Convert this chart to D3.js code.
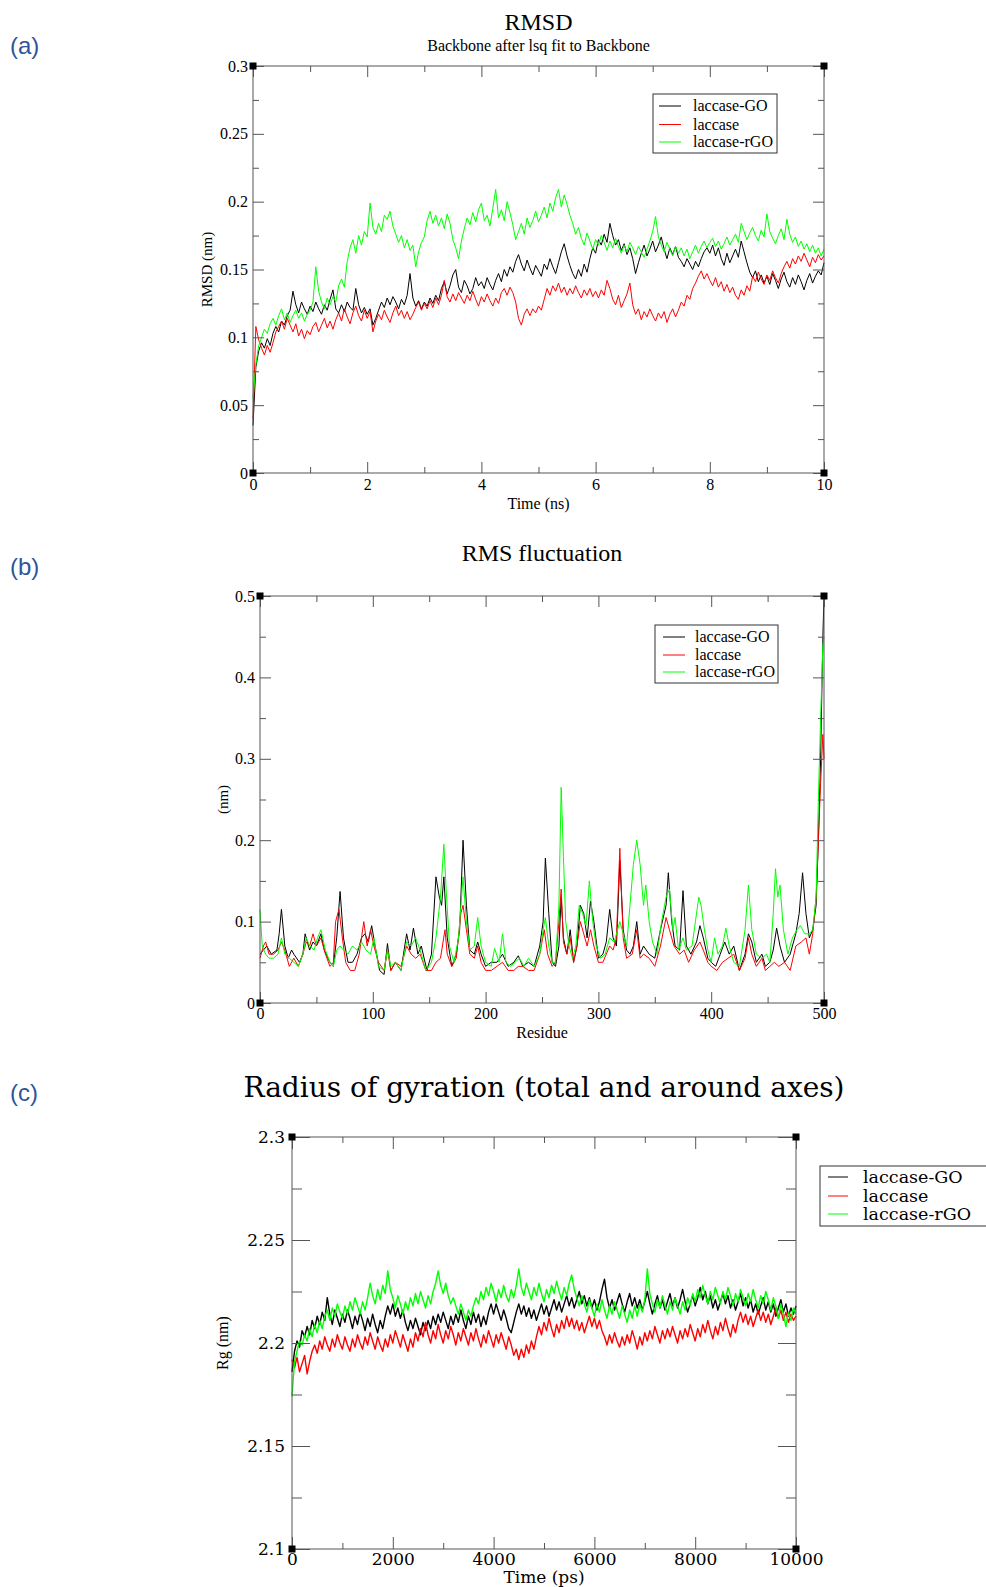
<!DOCTYPE html>
<html>
<head>
<meta charset="utf-8">
<script src="https://cdn.jsdelivr.net/npm/d3@7"></script>
<style>
body { margin: 0; background: #fff; }
svg { display: block; }
</style>
</head>
<body>
<svg width="986" height="1587"></svg>
<script>
// ---------- (a) RMSD, one sample every 0.05 ns ----------
var rmsdStep = 0.05;
var rmsdGO = [
  0.035,0.078,0.090,0.096,0.092,0.099,0.094,0.103,0.108,0.104,
  0.112,0.109,0.116,0.120,0.134,0.124,0.118,0.126,0.121,0.117,
  0.123,0.119,0.126,0.121,0.117,0.124,0.120,0.128,0.135,0.121,
  0.118,0.124,0.119,0.126,0.122,0.120,0.136,0.124,0.118,0.122,
  0.117,0.121,0.109,0.114,0.120,0.126,0.122,0.129,0.124,0.130,
  0.126,0.121,0.128,0.124,0.131,0.147,0.129,0.123,0.127,0.121,
  0.126,0.123,0.129,0.125,0.131,0.127,0.136,0.141,0.132,0.138,
  0.146,0.150,0.137,0.133,0.142,0.138,0.132,0.136,0.144,0.138,
  0.141,0.136,0.144,0.139,0.135,0.142,0.147,0.141,0.150,0.145,
  0.152,0.148,0.156,0.161,0.154,0.149,0.157,0.151,0.146,0.153,
  0.149,0.145,0.154,0.150,0.158,0.152,0.147,0.155,0.163,0.169,
  0.160,0.153,0.147,0.143,0.150,0.145,0.154,0.148,0.158,0.166,
  0.162,0.172,0.168,0.176,0.170,0.184,0.175,0.168,0.172,0.164,
  0.169,0.161,0.166,0.158,0.147,0.155,0.162,0.168,0.160,0.165,
  0.171,0.163,0.168,0.174,0.165,0.158,0.166,0.161,0.167,0.159,
  0.156,0.152,0.158,0.154,0.150,0.156,0.152,0.158,0.163,0.166,
  0.162,0.168,0.160,0.166,0.158,0.153,0.162,0.155,0.160,0.165,
  0.159,0.171,0.163,0.155,0.148,0.144,0.149,0.141,0.146,0.140,
  0.145,0.139,0.147,0.142,0.136,0.143,0.148,0.141,0.137,0.144,
  0.139,0.146,0.141,0.135,0.142,0.147,0.140,0.145,0.149,0.146,
  0.155];
var rmsdLac = [
  0.040,0.108,0.098,0.092,0.087,0.094,0.089,0.096,0.104,0.108,
  0.112,0.106,0.114,0.109,0.104,0.110,0.101,0.106,0.099,0.105,
  0.102,0.108,0.111,0.104,0.109,0.114,0.107,0.112,0.106,0.113,
  0.118,0.112,0.121,0.115,0.110,0.118,0.123,0.116,0.112,0.120,
  0.114,0.119,0.104,0.112,0.117,0.113,0.120,0.115,0.111,0.118,
  0.123,0.116,0.120,0.114,0.119,0.113,0.117,0.122,0.126,0.120,
  0.125,0.121,0.127,0.122,0.129,0.124,0.131,0.142,0.130,0.126,
  0.132,0.127,0.133,0.129,0.125,0.131,0.127,0.134,0.128,0.123,
  0.130,0.126,0.132,0.127,0.123,0.129,0.125,0.133,0.136,0.131,
  0.137,0.133,0.126,0.114,0.109,0.117,0.121,0.116,0.121,0.118,
  0.123,0.120,0.128,0.136,0.131,0.138,0.134,0.140,0.133,0.137,
  0.131,0.136,0.132,0.138,0.133,0.129,0.135,0.131,0.136,0.130,
  0.134,0.129,0.135,0.131,0.142,0.136,0.128,0.124,0.131,0.122,
  0.127,0.132,0.140,0.124,0.117,0.121,0.113,0.119,0.115,0.121,
  0.116,0.112,0.118,0.114,0.119,0.111,0.117,0.121,0.115,0.120,
  0.126,0.123,0.131,0.128,0.136,0.140,0.145,0.149,0.143,0.147,
  0.142,0.138,0.144,0.137,0.141,0.134,0.139,0.133,0.137,0.131,
  0.128,0.135,0.131,0.138,0.134,0.145,0.141,0.148,0.143,0.139,
  0.146,0.142,0.149,0.144,0.140,0.147,0.152,0.156,0.151,0.158,
  0.154,0.160,0.156,0.162,0.157,0.152,0.159,0.155,0.161,0.157,
  0.160];
var rmsdRGO = [
  0.055,0.080,0.094,0.100,0.106,0.103,0.110,0.114,0.109,0.116,
  0.121,0.113,0.118,0.111,0.116,0.120,0.114,0.118,0.112,0.117,
  0.120,0.126,0.152,0.134,0.126,0.121,0.129,0.124,0.130,0.126,
  0.138,0.143,0.137,0.156,0.166,0.172,0.162,0.175,0.168,0.178,
  0.174,0.199,0.181,0.176,0.184,0.178,0.190,0.187,0.193,0.182,
  0.176,0.170,0.175,0.166,0.172,0.164,0.168,0.152,0.163,0.170,
  0.174,0.186,0.193,0.184,0.190,0.182,0.188,0.180,0.191,0.184,
  0.172,0.166,0.158,0.171,0.180,0.188,0.183,0.192,0.185,0.194,
  0.199,0.186,0.190,0.182,0.195,0.209,0.188,0.194,0.186,0.200,
  0.192,0.183,0.172,0.178,0.184,0.176,0.188,0.181,0.186,0.193,
  0.185,0.190,0.196,0.188,0.199,0.193,0.203,0.209,0.196,0.205,
  0.198,0.190,0.184,0.176,0.181,0.173,0.168,0.177,0.171,0.165,
  0.172,0.168,0.175,0.170,0.164,0.171,0.166,0.173,0.167,0.162,
  0.168,0.163,0.170,0.166,0.161,0.167,0.163,0.159,0.165,0.171,
  0.178,0.189,0.174,0.168,0.163,0.170,0.165,0.160,0.167,0.162,
  0.166,0.160,0.165,0.158,0.163,0.168,0.162,0.167,0.171,0.166,
  0.170,0.173,0.167,0.171,0.165,0.169,0.174,0.168,0.172,0.176,
  0.170,0.184,0.178,0.172,0.177,0.181,0.175,0.171,0.179,0.174,
  0.191,0.178,0.173,0.169,0.175,0.180,0.172,0.187,0.176,0.170,
  0.174,0.167,0.171,0.165,0.169,0.163,0.168,0.162,0.166,0.160,
  0.165];

// ---------- (b) RMSF, [residue, nm] ----------
var rmsfGO = [[0,0.060],[3,0.065],[6,0.070],[10,0.060],[15,0.065],[17,0.085],[19,0.115],[22,0.070],[25,0.055],[28,0.065],[30,0.060],[35,0.050],[38,0.060],[40,0.085],[44,0.065],[47,0.075],[50,0.070],[54,0.085],[57,0.065],[62,0.050],[65,0.045],[68,0.080],[71,0.137],[74,0.080],[78,0.050],[82,0.050],[86,0.060],[90,0.080],[93,0.085],[96,0.075],[99,0.095],[102,0.070],[106,0.040],[110,0.035],[113,0.073],[116,0.040],[120,0.050],[125,0.040],[130,0.085],[133,0.065],[136,0.092],[140,0.060],[143,0.070],[148,0.040],[152,0.060],[156,0.155],[159,0.130],[161,0.120],[163,0.155],[166,0.080],[170,0.045],[174,0.060],[177,0.090],[180,0.200],[183,0.120],[186,0.065],[190,0.060],[193,0.075],[196,0.060],[200,0.045],[205,0.050],[210,0.050],[215,0.060],[220,0.045],[225,0.050],[229,0.058],[233,0.045],[238,0.050],[243,0.045],[248,0.070],[251,0.100],[253,0.178],[256,0.110],[259,0.050],[262,0.045],[265,0.070],[267,0.130],[269,0.080],[272,0.060],[275,0.090],[278,0.050],[281,0.070],[284,0.120],[287,0.110],[290,0.080],[293,0.125],[296,0.100],[300,0.055],[304,0.060],[307,0.075],[310,0.115],[313,0.080],[316,0.070],[319,0.175],[322,0.090],[325,0.065],[328,0.060],[331,0.070],[334,0.100],[337,0.060],[340,0.070],[345,0.060],[350,0.055],[355,0.090],[360,0.120],[362,0.160],[365,0.100],[368,0.070],[372,0.065],[375,0.138],[378,0.070],[382,0.060],[387,0.075],[390,0.095],[393,0.080],[397,0.055],[400,0.050],[404,0.045],[408,0.060],[412,0.075],[416,0.060],[420,0.070],[425,0.040],[430,0.060],[433,0.085],[436,0.075],[440,0.050],[445,0.060],[448,0.045],[452,0.050],[455,0.065],[458,0.092],[461,0.070],[465,0.050],[470,0.060],[475,0.085],[478,0.110],[481,0.160],[484,0.110],[487,0.080],[490,0.090],[493,0.120],[495,0.200],[497,0.300],[499,0.450],[500,0.500]];
var rmsfLac = [[0,0.055],[3,0.070],[5,0.075],[8,0.060],[12,0.060],[16,0.065],[19,0.075],[22,0.065],[26,0.045],[30,0.055],[34,0.045],[38,0.060],[41,0.075],[44,0.070],[47,0.085],[50,0.070],[54,0.080],[58,0.060],[62,0.045],[65,0.050],[67,0.100],[70,0.115],[73,0.080],[76,0.050],[80,0.040],[84,0.040],[88,0.060],[92,0.100],[95,0.070],[98,0.090],[101,0.070],[105,0.050],[110,0.040],[113,0.065],[116,0.040],[120,0.050],[125,0.045],[130,0.070],[134,0.060],[138,0.055],[142,0.060],[147,0.040],[152,0.040],[156,0.050],[160,0.055],[164,0.090],[166,0.060],[170,0.045],[174,0.055],[178,0.110],[180,0.120],[183,0.090],[186,0.060],[190,0.055],[193,0.070],[196,0.050],[200,0.040],[205,0.040],[210,0.045],[215,0.050],[220,0.040],[225,0.040],[229,0.045],[233,0.045],[238,0.040],[243,0.040],[248,0.060],[252,0.090],[255,0.060],[259,0.045],[262,0.050],[265,0.100],[267,0.140],[269,0.075],[272,0.060],[275,0.080],[278,0.050],[281,0.070],[284,0.100],[287,0.085],[290,0.070],[293,0.090],[296,0.070],[300,0.050],[304,0.050],[307,0.060],[310,0.070],[313,0.065],[316,0.080],[319,0.190],[322,0.080],[325,0.055],[330,0.060],[334,0.090],[337,0.055],[340,0.060],[345,0.055],[350,0.045],[355,0.070],[360,0.105],[363,0.090],[367,0.070],[372,0.060],[376,0.065],[380,0.050],[385,0.065],[390,0.075],[393,0.065],[397,0.050],[400,0.045],[405,0.040],[410,0.050],[415,0.055],[420,0.060],[425,0.040],[430,0.055],[433,0.080],[436,0.060],[440,0.045],[445,0.055],[448,0.040],[452,0.045],[456,0.050],[460,0.045],[465,0.050],[470,0.040],[475,0.070],[480,0.075],[484,0.080],[487,0.060],[490,0.085],[493,0.130],[495,0.200],[497,0.270],[499,0.330],[500,0.300]];
var rmsfRGO = [[0,0.115],[2,0.070],[5,0.060],[8,0.055],[12,0.055],[16,0.060],[19,0.080],[22,0.060],[26,0.055],[30,0.050],[34,0.045],[38,0.060],[41,0.080],[44,0.070],[48,0.065],[51,0.080],[54,0.090],[58,0.065],[62,0.050],[65,0.045],[68,0.065],[71,0.070],[74,0.065],[78,0.060],[82,0.070],[86,0.065],[90,0.075],[94,0.065],[98,0.060],[101,0.080],[105,0.045],[110,0.040],[113,0.065],[116,0.045],[120,0.050],[125,0.040],[130,0.075],[134,0.070],[138,0.080],[142,0.065],[147,0.040],[152,0.050],[156,0.080],[160,0.130],[163,0.195],[165,0.140],[168,0.070],[172,0.050],[176,0.080],[180,0.155],[183,0.100],[186,0.065],[190,0.070],[193,0.105],[196,0.070],[200,0.050],[205,0.045],[208,0.067],[212,0.050],[215,0.085],[218,0.050],[222,0.045],[226,0.050],[230,0.055],[234,0.045],[238,0.055],[243,0.045],[248,0.060],[251,0.090],[253,0.105],[256,0.070],[259,0.050],[262,0.050],[265,0.120],[267,0.265],[269,0.180],[271,0.100],[274,0.070],[277,0.055],[280,0.070],[283,0.120],[286,0.110],[289,0.095],[292,0.150],[295,0.100],[298,0.070],[302,0.055],[306,0.060],[310,0.080],[314,0.075],[317,0.090],[319,0.100],[322,0.085],[325,0.070],[328,0.120],[331,0.170],[334,0.200],[337,0.170],[340,0.120],[342,0.145],[345,0.100],[348,0.075],[352,0.060],[356,0.100],[360,0.130],[363,0.140],[366,0.090],[368,0.105],[371,0.065],[375,0.080],[378,0.065],[383,0.070],[386,0.100],[389,0.130],[391,0.120],[394,0.090],[397,0.065],[400,0.050],[403,0.080],[406,0.060],[410,0.070],[413,0.092],[416,0.070],[420,0.050],[425,0.045],[430,0.090],[433,0.145],[436,0.090],[440,0.060],[445,0.055],[449,0.060],[452,0.050],[455,0.110],[457,0.165],[459,0.130],[461,0.145],[464,0.090],[468,0.060],[472,0.080],[476,0.090],[479,0.095],[483,0.085],[487,0.085],[490,0.090],[493,0.130],[495,0.250],[497,0.350],[499,0.440],[500,0.450]];

// ---------- (c) Rg, one sample every 50 ps ----------
var rgStep = 50;
var rgGO = [
  2.186,2.196,2.201,2.198,2.206,2.203,2.208,2.204,2.211,2.207,
  2.213,2.209,2.215,2.211,2.222,2.214,2.209,2.216,2.212,2.208,
  2.214,2.210,2.216,2.212,2.207,2.213,2.209,2.215,2.211,2.206,
  2.212,2.208,2.214,2.209,2.205,2.211,2.207,2.213,2.218,2.214,
  2.219,2.213,2.217,2.212,2.216,2.210,2.206,2.211,2.207,2.212,
  2.208,2.204,2.210,2.206,2.211,2.207,2.213,2.209,2.214,2.210,
  2.215,2.211,2.207,2.213,2.209,2.214,2.210,2.216,2.211,2.207,
  2.213,2.209,2.215,2.210,2.214,2.208,2.213,2.209,2.215,2.219,
  2.214,2.219,2.215,2.211,2.216,2.212,2.207,2.205,2.210,2.215,
  2.219,2.214,2.218,2.213,2.217,2.212,2.216,2.211,2.215,2.219,
  2.214,2.218,2.213,2.217,2.221,2.216,2.220,2.215,2.219,2.223,
  2.218,2.222,2.217,2.221,2.225,2.219,2.223,2.218,2.222,2.217,
  2.221,2.216,2.220,2.226,2.231,2.222,2.217,2.221,2.216,2.220,
  2.224,2.219,2.215,2.220,2.224,2.218,2.222,2.217,2.221,2.216,
  2.220,2.225,2.219,2.214,2.219,2.223,2.217,2.221,2.216,2.220,
  2.224,2.218,2.222,2.217,2.221,2.226,2.220,2.215,2.219,2.223,
  2.218,2.222,2.227,2.221,2.225,2.219,2.223,2.217,2.221,2.216,
  2.220,2.224,2.219,2.223,2.217,2.221,2.216,2.220,2.224,2.218,
  2.222,2.217,2.221,2.215,2.219,2.214,2.218,2.222,2.216,2.220,
  2.215,2.219,2.213,2.217,2.221,2.215,2.219,2.213,2.217,2.214,
  2.218];
var rgLac = [
  2.192,2.188,2.193,2.186,2.190,2.194,2.185,2.191,2.196,2.199,
  2.195,2.201,2.197,2.203,2.199,2.196,2.202,2.198,2.204,2.200,
  2.197,2.203,2.199,2.196,2.202,2.198,2.204,2.200,2.197,2.203,
  2.199,2.205,2.201,2.197,2.203,2.199,2.196,2.202,2.198,2.204,
  2.200,2.206,2.202,2.198,2.204,2.200,2.196,2.202,2.198,2.205,
  2.201,2.207,2.203,2.210,2.204,2.200,2.206,2.202,2.209,2.204,
  2.200,2.206,2.202,2.208,2.204,2.199,2.205,2.201,2.207,2.203,
  2.199,2.205,2.201,2.207,2.202,2.198,2.204,2.200,2.206,2.202,
  2.198,2.204,2.200,2.205,2.201,2.197,2.203,2.199,2.194,2.197,
  2.192,2.197,2.193,2.199,2.195,2.201,2.197,2.203,2.208,2.204,
  2.210,2.206,2.212,2.207,2.203,2.209,2.205,2.211,2.207,2.213,
  2.208,2.212,2.207,2.211,2.206,2.210,2.205,2.209,2.213,2.208,
  2.212,2.207,2.211,2.206,2.203,2.199,2.204,2.200,2.205,2.201,
  2.198,2.203,2.199,2.204,2.200,2.206,2.202,2.197,2.203,2.199,
  2.205,2.201,2.206,2.202,2.208,2.204,2.200,2.206,2.202,2.207,
  2.203,2.208,2.204,2.200,2.206,2.202,2.207,2.203,2.209,2.205,
  2.201,2.207,2.203,2.209,2.205,2.211,2.206,2.202,2.208,2.204,
  2.210,2.206,2.212,2.207,2.203,2.209,2.205,2.211,2.215,2.210,
  2.214,2.209,2.213,2.208,2.212,2.216,2.211,2.215,2.210,2.214,
  2.209,2.213,2.217,2.212,2.216,2.211,2.215,2.210,2.214,2.211,
  2.213];
var rgRGO = [
  2.174,2.191,2.196,2.201,2.199,2.204,2.201,2.207,2.203,2.209,
  2.205,2.211,2.207,2.213,2.216,2.211,2.217,2.213,2.219,2.215,
  2.212,2.218,2.214,2.220,2.216,2.222,2.218,2.214,2.220,2.216,
  2.222,2.229,2.223,2.219,2.226,2.221,2.228,2.224,2.235,2.226,
  2.222,2.217,2.223,2.219,2.214,2.220,2.216,2.222,2.218,2.224,
  2.219,2.225,2.221,2.217,2.223,2.219,2.225,2.229,2.235,2.228,
  2.224,2.229,2.223,2.219,2.222,2.218,2.214,2.219,2.215,2.211,
  2.216,2.213,2.218,2.222,2.219,2.225,2.221,2.227,2.223,2.229,
  2.225,2.220,2.226,2.222,2.228,2.223,2.220,2.226,2.222,2.228,
  2.236,2.227,2.223,2.229,2.225,2.221,2.227,2.223,2.229,2.224,
  2.220,2.226,2.222,2.228,2.224,2.230,2.225,2.221,2.227,2.223,
  2.229,2.233,2.226,2.222,2.218,2.223,2.219,2.215,2.221,2.217,
  2.213,2.219,2.215,2.221,2.216,2.212,2.218,2.214,2.220,2.216,
  2.212,2.218,2.214,2.210,2.216,2.212,2.218,2.213,2.219,2.215,
  2.221,2.236,2.224,2.219,2.215,2.221,2.217,2.223,2.218,2.214,
  2.220,2.216,2.222,2.218,2.214,2.220,2.216,2.222,2.218,2.224,
  2.220,2.226,2.222,2.228,2.223,2.219,2.225,2.221,2.227,2.223,
  2.219,2.225,2.221,2.227,2.223,2.218,2.224,2.220,2.226,2.222,
  2.218,2.224,2.220,2.226,2.221,2.217,2.223,2.219,2.225,2.221,
  2.216,2.222,2.218,2.212,2.219,2.214,2.208,2.215,2.211,2.217,
  2.214];

var seriesNames = ["laccase-GO", "laccase", "laccase-rGO"];
var seriesColors = ["#000000", "#ff0000", "#00ff00"];

var serif = "'Liberation Serif','Times New Roman',serif";
var wideSerif = "'DejaVu Serif',serif";
var svg = d3.select("svg");

function stepped(vals, step) {
  return vals.map(function(v, i) { return [i * step, v]; });
}
function trimNum(d) { return String(+d.toFixed(3)); }

function panel(c) {
  var x = d3.scaleLinear().domain(c.xDomain).range([c.l, c.r]);
  var y = d3.scaleLinear().domain(c.yDomain).range([c.b, c.t]);
  var g = svg.append("g");

  // series
  var line = d3.line().x(function(d){ return x(d[0]); }).y(function(d){ return y(d[1]); });
  c.series.forEach(function(s, i) {
    g.append("path")
      .datum(s)
      .attr("fill", "none")
      .attr("stroke", seriesColors[i])
      .attr("stroke-width", c.lw)
      .attr("stroke-linejoin", "round")
      .attr("d", line);
  });

  // inward ticks on all four sides, major + minor
  function ax(gen, scale, vals, size, tx, ty, labels, pad) {
    var a = gen(scale).tickValues(vals).tickSizeInner(-size).tickSizeOuter(0).tickPadding(pad || 3);
    a.tickFormat(labels ? c[labels] : "");
    var gg = g.append("g").attr("transform", "translate(" + tx + "," + ty + ")").call(a);
    gg.select(".domain").remove();
    gg.selectAll(".tick line").attr("stroke", "#555");
    gg.attr("font-family", c.tickFont).attr("font-size", c.tickSize);
    gg.selectAll("text").attr("fill", "#000");
    return gg;
  }
  ax(d3.axisBottom, x, c.xMinor, c.minX, 0, c.b);
  ax(d3.axisTop, x, c.xMinor, c.minX, 0, c.t);
  ax(d3.axisLeft, y, c.yMinor, c.minY, c.l, 0);
  ax(d3.axisRight, y, c.yMinor, c.minY, c.r, 0);
  ax(d3.axisBottom, x, c.xMajor, c.majX, 0, c.b, "xFmt", c.xPad);
  ax(d3.axisTop, x, c.xMajor, c.majX, 0, c.t);
  ax(d3.axisLeft, y, c.yMajor, c.majY, c.l, 0, "yFmt", c.yPad);
  ax(d3.axisRight, y, c.yMajor, c.majY, c.r, 0);

  g.append("rect")
    .attr("x", c.l).attr("y", c.t)
    .attr("width", c.r - c.l).attr("height", c.b - c.t)
    .attr("fill", "none").attr("stroke", "#555").attr("stroke-width", 1);

  // corner markers
  [[c.l, c.t], [c.r, c.t], [c.l, c.b], [c.r, c.b]].forEach(function(p) {
    g.append("rect").attr("x", p[0] - 3.5).attr("y", p[1] - 3.5)
      .attr("width", 7).attr("height", 7).attr("fill", "#000");
  });

  // titles and axis labels
  c.titles.forEach(function(t) {
    g.append("text").attr("x", (c.l + c.r) / 2).attr("y", t.y)
      .attr("text-anchor", "middle").attr("font-family", t.font)
      .attr("font-size", t.size).text(t.text);
  });
  g.append("text").attr("x", (c.l + c.r) / 2).attr("y", c.xLabelY)
    .attr("text-anchor", "middle").attr("font-family", c.labelFont)
    .attr("font-size", c.labelSize).text(c.xLabel);
  g.append("text")
    .attr("transform", "translate(" + c.yLabelX + "," + (c.t + c.b) / 2 + ") rotate(-90)")
    .attr("text-anchor", "middle").attr("font-family", serif)
    .attr("font-size", c.yLabelSize).text(c.yLabel);

  // legend
  var L = c.legend;
  g.append("rect").attr("x", L.x).attr("y", L.y).attr("width", L.w).attr("height", L.h)
    .attr("fill", "#fff").attr("stroke", "#333").attr("stroke-width", 1);
  seriesNames.forEach(function(n, i) {
    var cy = L.rows[i];
    g.append("line").attr("x1", L.lx1).attr("x2", L.lx2).attr("y1", cy).attr("y2", cy)
      .attr("stroke", seriesColors[i]).attr("stroke-width", 1);
    g.append("text").attr("x", L.tx).attr("y", cy + L.size * 0.33)
      .attr("font-family", L.font).attr("font-size", L.size).text(n);
  });

  // panel letter
  svg.append("text").attr("x", 10).attr("y", c.letterY)
    .attr("font-family", "'Liberation Sans',Arial,sans-serif").attr("font-size", 24)
    .attr("fill", "#2f5597").text(c.letter);
}

panel({
  l: 253, r: 824, t: 66, b: 473,
  xDomain: [0, 10], yDomain: [0, 0.3],
  xMajor: [0, 2, 4, 6, 8, 10], xMinor: [1, 3, 5, 7, 9],
  yMajor: [0, 0.05, 0.1, 0.15, 0.2, 0.25, 0.3], yMinor: [0.025, 0.075, 0.125, 0.175, 0.225, 0.275],
  xFmt: trimNum, yFmt: trimNum, xPad: 6, yPad: 5,
  majX: 11, minX: 6, majY: 11, minY: 6,
  tickFont: serif, tickSize: 16, lw: 1,
  series: [stepped(rmsdGO, rmsdStep), stepped(rmsdLac, rmsdStep), stepped(rmsdRGO, rmsdStep)],
  titles: [{text: "RMSD", y: 30, size: 24, font: serif},
           {text: "Backbone after lsq fit to Backbone", y: 51, size: 16, font: serif}],
  xLabel: "Time (ns)", xLabelY: 509, labelFont: serif, labelSize: 16,
  yLabel: "RMSD (nm)", yLabelX: 212, yLabelSize: 15,
  legend: {x: 653, y: 94, w: 124, h: 59, lx1: 659, lx2: 681, tx: 693,
           rows: [106, 124.5, 142], size: 16, font: serif},
  letter: "(a)", letterY: 54
});

panel({
  l: 260, r: 824, t: 596, b: 1003,
  xDomain: [0, 500], yDomain: [0, 0.5],
  xMajor: [0, 100, 200, 300, 400, 500], xMinor: [50, 150, 250, 350, 450],
  yMajor: [0, 0.1, 0.2, 0.3, 0.4, 0.5], yMinor: [0.05, 0.15, 0.25, 0.35, 0.45],
  xFmt: trimNum, yFmt: trimNum, xPad: 5, yPad: 5,
  majX: 11, minX: 6, majY: 11, minY: 6,
  tickFont: serif, tickSize: 16, lw: 1,
  series: [rmsfGO, rmsfLac, rmsfRGO],
  titles: [{text: "RMS fluctuation", y: 561, size: 24, font: serif}],
  xLabel: "Residue", xLabelY: 1038, labelFont: serif, labelSize: 16,
  yLabel: "(nm)", yLabelX: 228, yLabelSize: 15,
  legend: {x: 655, y: 625, w: 123, h: 58, lx1: 663, lx2: 685, tx: 695,
           rows: [637, 655, 672], size: 16, font: serif},
  letter: "(b)", letterY: 575
});

panel({
  l: 292, r: 796, t: 1137, b: 1549,
  xDomain: [0, 10000], yDomain: [2.1, 2.3],
  xMajor: [0, 2000, 4000, 6000, 8000, 10000], xMinor: [1000, 3000, 5000, 7000, 9000],
  yMajor: [2.1, 2.15, 2.2, 2.25, 2.3], yMinor: [2.125, 2.175, 2.225, 2.275],
  xFmt: trimNum, yFmt: trimNum, xPad: 4, yPad: 7,
  majX: 12, minX: 6, majY: 18, minY: 10,
  tickFont: wideSerif, tickSize: 17, lw: 1.4,
  series: [stepped(rgGO, rgStep), stepped(rgLac, rgStep), stepped(rgRGO, rgStep)],
  titles: [{text: "Radius of gyration (total and around axes)", y: 1097, size: 28, font: wideSerif}],
  xLabel: "Time (ps)", xLabelY: 1583, labelFont: wideSerif, labelSize: 17,
  yLabel: "Rg (nm)", yLabelX: 228, yLabelSize: 16,
  legend: {x: 820, y: 1166, w: 167, h: 60, lx1: 828, lx2: 848, tx: 863,
           rows: [1177, 1196, 1214], size: 17.5, font: wideSerif},
  letter: "(c)", letterY: 1101
});
</script>
</body>
</html>
